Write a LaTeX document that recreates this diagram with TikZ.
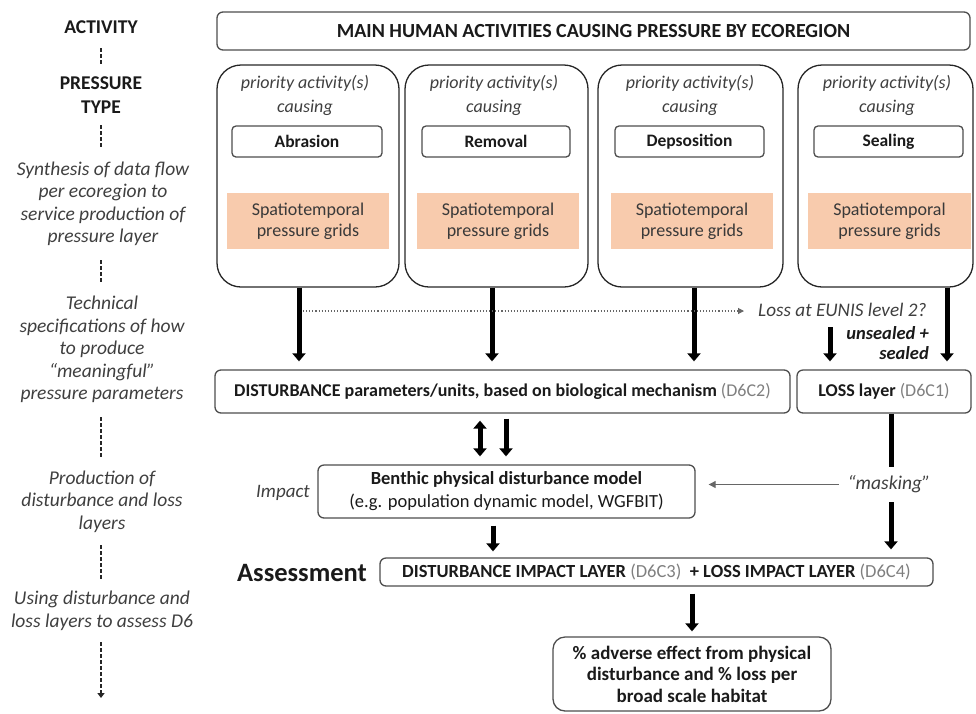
\documentclass[tikz,border=0pt]{standalone}
\usepackage{fontspec}
\setmainfont{Carlito}
\usetikzlibrary{arrows.meta}
\definecolor{orng}{HTML}{F8CBAD}
\definecolor{txt}{HTML}{1A1A1A}
\definecolor{lbl}{HTML}{3F3F3F}
\definecolor{gry}{HTML}{7F7F7F}
\definecolor{edge}{HTML}{4D4D4D}
\begin{document}
\begin{tikzpicture}[x=1pt,y=-1pt,
  box/.style={draw=edge, line width=1.3pt, rounded corners=6pt, inner sep=0pt, align=center, text=txt, font=\fontsize{18}{23}\selectfont},
  colbox/.style={draw=black!85, line width=1.3pt, rounded corners=24pt, inner sep=0pt, minimum height=222pt},
  ptype/.style={draw=edge, line width=1.3pt, rounded corners=4pt, inner sep=0pt, minimum height=31pt, font=\bfseries\fontsize{17.5}{19}\selectfont, text=txt},
  prio/.style={inner sep=0pt, align=center, text=lbl, font=\itshape\fontsize{18}{24}\selectfont},
  grid/.style={fill=orng, inner sep=0pt, minimum width=162pt, minimum height=56pt, align=center, text=lbl!90!black, font=\fontsize{18}{21}\selectfont},
  side/.style={inner sep=0pt, align=center, text=lbl, font=\itshape\fontsize{19.5}{22.5}\selectfont},
  sidebf/.style={inner sep=0pt, align=center, text=txt, font=\bfseries\fontsize{19.5}{24}\selectfont},
  dsh/.style={draw=black!85, line width=1.4pt, dash pattern=on 4pt off 2pt},
  big/.style={draw=black, line width=5pt, -{Triangle[width=13pt,length=8pt]}},
  bigdbl/.style={draw=black, line width=5pt, {Triangle[width=13pt,length=8pt]}-{Triangle[width=13pt,length=8pt]}},
  dotarrow/.style={draw=gry!80!black, line width=1.1pt, dotted, -{Triangle[width=6pt,length=6pt]}},
  thinarrow/.style={draw=gry!80!black, line width=1pt, -{Triangle[width=7pt,length=7pt]}}
]
\useasboundingbox (0,0) rectangle (976,713);

% left side labels
\node[sidebf, minimum height=42pt] (act) at (101,27) {ACTIVITY};
\node[sidebf, minimum height=60pt] (pt) at (101,95) {PRESSURE\\TYPE};
\node[side, minimum height=112pt] (syn) at (103,204) {Synthesis of data flow\\per ecoregion to\\service production of\\pressure layer};
\node[side, minimum height=135pt] (tech) at (102,349.5) {Technical\\specifications of how\\to produce\\“meaningful”\\pressure parameters};
\node[side, minimum height=87pt] (prod) at (102,501.5) {Production of\\disturbance and loss\\layers};
\node[side, minimum height=62pt] (use) at (102,611) {Using disturbance and\\loss layers to assess D6};
\coordinate (endl) at (101,698);
\draw[dsh] (act.south) -- (act.south |- pt.north);
\draw[dsh] (act.south |- pt.south) -- (act.south |- syn.north);
\draw[dsh] (act.south |- syn.south) -- (act.south |- tech.north);
\draw[dsh] (act.south |- tech.south) -- (act.south |- prod.north);
\draw[dsh] (act.south |- prod.south) -- (act.south |- use.north);
\draw[dsh, -{Triangle[width=7pt,length=5pt]}] (act.south |- use.south) -- (endl);

% top box
\node[box, minimum width=753pt, minimum height=38pt, font=\bfseries\fontsize{20}{22}\selectfont] (top) at (593.5,31) {MAIN HUMAN ACTIVITIES CAUSING PRESSURE BY ECOREGION};

% columns
\node[colbox, minimum width=182pt] (c1) at (308,176) {};
\node[colbox, minimum width=183pt] (c2) at (496.5,176) {};
\node[colbox, minimum width=185pt] (c3) at (690.5,176) {};
\node[colbox, minimum width=175pt] (c4) at (885.5,176) {};

\node[prio] (p1) at (305,95) {priority activity(s)\\causing};
\node[prio] (p2) at (494,95) {priority activity(s)\\causing};
\node[prio] (p3) at (690,95) {priority activity(s)\\causing};
\node[prio] (p4) at (887,95) {priority activity(s)\\causing};

\node[ptype, minimum width=150pt] (abr) at (307,141.5) {Abrasion};
\node[ptype, minimum width=148pt] (rem) at (496,141.5) {Removal};
\node[ptype, minimum width=149pt] (dep) at (689.5,141.5) {Depsosition};
\node[ptype, minimum width=149pt] (sea) at (888.5,141.5) {Sealing};

\node[grid] (g1) at (308,221) {Spatiotemporal\\pressure grids};
\node[grid] (g2) at (498,221) {Spatiotemporal\\pressure grids};
\node[grid] (g3) at (692,221) {Spatiotemporal\\pressure grids};
\node[grid, minimum width=163pt] (g4) at (889.5,221) {Spatiotemporal\\pressure grids};

% disturbance and loss boxes
\node[box, minimum width=575pt, minimum height=43pt] (dist) at (502.5,391.5) {\textbf{DISTURBANCE parameters/units, based on biological mechanism} {\color{gry}(D6C2)}};
\node[box, minimum width=174pt, minimum height=43pt] (loss) at (884,391.5) {\textbf{LOSS layer} {\color{gry}(D6C1)}};

% arrows from columns
\draw[big, shorten >=8pt] ([xshift=-9pt]c1.south) -- ([xshift=-9pt]c1.south |- dist.north);
\draw[big, shorten >=8pt] ([xshift=-4.5pt]c2.south) -- ([xshift=-4.5pt]c2.south |- dist.north);
\draw[big, shorten >=8pt] ([xshift=3.5pt]c3.south) -- ([xshift=3.5pt]c3.south |- dist.north);
\draw[big, shorten >=8pt] ([xshift=61.5pt]c4.south) -- ([xshift=61.5pt]c4.south |- loss.north);

% EUNIS note
\node[inner sep=0pt, anchor=west, text=lbl, font=\itshape\fontsize{19.2}{21}\selectfont] (eunis) at (758,310) {Loss at EUNIS level 2?};
\coordinate (d0) at (303,311);
\draw[dotarrow, shorten >=14pt] (d0) -- (d0 -| eunis.west);
\coordinate (s1) at (830,327);
\draw[big, shorten >=8pt] (s1) -- (s1 |- loss.north);
\node[inner sep=0pt, anchor=east, align=right, text=txt, font=\bfseries\itshape\fontsize{18.5}{20}\selectfont] (uns) at (929,343) {unsealed +\\sealed};

% benthic model
\node[box, minimum width=377pt, minimum height=53pt, font=\fontsize{18.5}{23}\selectfont] (ben) at (506.5,491.5) {\textbf{Benthic physical disturbance model}\\(e.g. population dynamic model, WGFBIT)};
\node[inner sep=0pt, text=lbl, font=\itshape\fontsize{19}{21}\selectfont] (imp) at (283,493) {Impact};
\draw[bigdbl, shorten <=7pt, shorten >=8pt] ([xshift=-22.5pt]dist.south) -- ([xshift=-22.5pt]dist.south |- ben.north);
\draw[big, shorten <=5pt, shorten >=8pt] ([xshift=3.5pt]dist.south) -- ([xshift=3.5pt]dist.south |- ben.north);

% assessment
\node[inner sep=0pt, text=txt, font=\bfseries\fontsize{26.5}{30}\selectfont] (asst) at (302,573) {Assessment};
\node[box, minimum width=553pt, minimum height=28pt, font=\fontsize{18.5}{20}\selectfont] (ass) at (656.5,572) {\textbf{DISTURBANCE IMPACT LAYER} {\color{gry}(D6C3)}\ \ \textbf{+ LOSS IMPACT LAYER} {\color{gry}(D6C4)}};
\draw[big, shorten <=7pt, shorten >=6pt] ([xshift=-13.5pt]ben.south) -- ([xshift=-13.5pt]ben.south |- ass.north);

% masking
\node[fill=white, inner sep=0pt, minimum width=100pt, minimum height=35pt, text=lbl, font=\itshape\fontsize{19.5}{21}\selectfont] (mask) at (889,484.5) {“masking”};
\draw[draw=black, line width=5pt] ([xshift=7pt]loss.south) -- ([xshift=7pt]loss.south |- mask.north);
\draw[big, shorten >=8pt] ([xshift=7pt]loss.south |- mask.south) -- ([xshift=7pt]loss.south |- ass.north);
\draw[thinarrow, shorten >=13pt] (mask.west) -- (mask.west -| ben.east);

% final
\node[box, rounded corners=12pt, minimum width=278pt, minimum height=74pt, font=\bfseries\fontsize{19}{21.5}\selectfont] (fin) at (692,674) {\% adverse effect from physical\\disturbance and \% loss per\\broad scale habitat};
\draw[big, shorten <=7pt, shorten >=5pt] ([xshift=35.5pt]ass.south) -- (fin.north);
\end{tikzpicture}
\end{document}
